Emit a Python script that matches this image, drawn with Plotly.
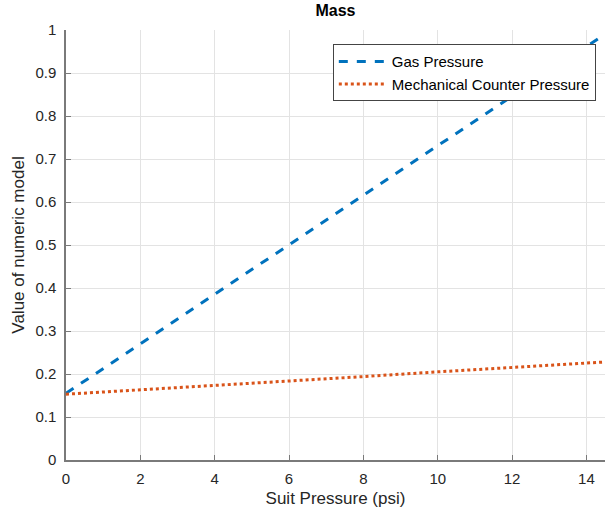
import plotly.graph_objects as go

suit_pressure = [0, 2, 4, 6, 8, 10, 12, 14.5]
gas_pressure = [0.155, 0.270, 0.385, 0.500, 0.615, 0.730, 0.845, 0.990]
mech_pressure = [0.153, 0.163, 0.173, 0.184, 0.194, 0.205, 0.215, 0.228]

x_ticks = [0, 2, 4, 6, 8, 10, 12, 14]
y_ticks = [0, 0.1, 0.2, 0.3, 0.4, 0.5, 0.6, 0.7, 0.8, 0.9, 1]
y_tick_text = ["0", "0.1", "0.2", "0.3", "0.4", "0.5", "0.6", "0.7", "0.8", "0.9", "1"]

FONT = "Liberation Sans, Arial, Helvetica, sans-serif"

fig = go.Figure()
fig.add_trace(go.Scatter(x=suit_pressure, y=gas_pressure, mode="lines",
                         name="Gas Pressure",
                         line=dict(color="#0072BD", width=3, dash="dash")))
fig.add_trace(go.Scatter(x=suit_pressure, y=mech_pressure, mode="lines",
                         name="Mechanical Counter Pressure",
                         line=dict(color="#D95319", width=3, dash="dot")))

axis_common = dict(showgrid=True, gridcolor="#e3e3e3", gridwidth=1,
                   showline=True, linecolor="#7a7a7a", linewidth=1.5,
                   ticks="inside", ticklen=5, tickcolor="#7a7a7a",
                   tickfont=dict(family=FONT, size=15, color="#262626"),
                   zeroline=False, mirror=False)

fig.update_layout(
    width=605, height=514,
    margin=dict(l=66, r=0, t=30, b=54),
    paper_bgcolor="white", plot_bgcolor="white",
    title=dict(text="<b>Mass</b>", x=0.5, xanchor="center", xref="paper",
               y=1 - 10 / 514, yanchor="middle",
               font=dict(family=FONT, size=16, color="black")),
    xaxis=dict(range=[0, 14.5], tickvals=x_ticks, ticklabelstandoff=4,
               title=dict(text="Suit Pressure (psi)", standoff=6,
                          font=dict(family=FONT, size=17, color="#262626")),
               **axis_common),
    yaxis=dict(range=[0, 1], tickvals=y_ticks, ticktext=y_tick_text,
               ticklabelstandoff=5,
               title=dict(text="Value of numeric model", standoff=6,
                          font=dict(family=FONT, size=17, color="#262626")),
               **axis_common),
    legend=dict(x=0.495, y=0.967, xanchor="left", yanchor="top",
                bgcolor="white", bordercolor="#444", borderwidth=1,
                font=dict(family=FONT, size=15, color="black"),
                tracegroupgap=0, itemwidth=48),
    showlegend=True,
)

fig.write_html("out.html")
